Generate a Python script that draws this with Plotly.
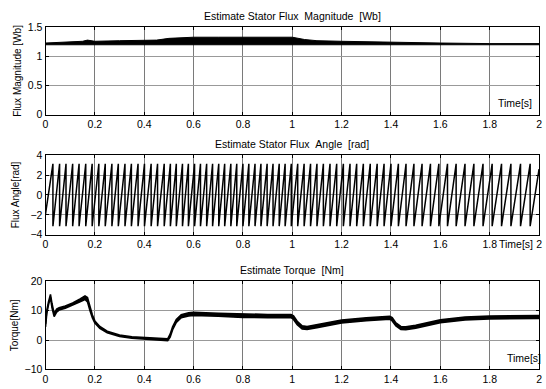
import plotly.graph_objects as go

W, H = 546, 389

# ---------------- data ----------------
# Flux magnitude: ripple band (lower / upper envelope)
flux_t  = [0.0, 0.05, 0.10, 0.15, 0.17, 0.20, 0.30, 0.40, 0.45, 0.50, 0.55, 0.60, 0.70, 0.80, 0.90, 0.98, 1.00, 1.05, 1.10, 1.20, 1.30, 1.40, 1.50, 1.60, 1.80, 2.00]
flux_lo = [1.20, 1.20, 1.20, 1.21, 1.21, 1.21, 1.21, 1.21, 1.21, 1.21, 1.21, 1.21, 1.21, 1.21, 1.21, 1.21, 1.21, 1.21, 1.21, 1.21, 1.20, 1.20, 1.20, 1.20, 1.20, 1.20]
flux_hi = [1.23, 1.24, 1.25, 1.26, 1.28, 1.26, 1.27, 1.27, 1.28, 1.31, 1.32, 1.33, 1.33, 1.33, 1.33, 1.34, 1.33, 1.29, 1.27, 1.26, 1.25, 1.24, 1.23, 1.23, 1.22, 1.22]

# Flux angle: times at which the angle wraps from +pi to -pi
angle_start = -1.9
angle_end = 2.6
wrap_times = [0.030, 0.057, 0.083, 0.110, 0.136, 0.163, 0.189, 0.216, 0.242, 0.269,
              0.295, 0.322, 0.348, 0.375, 0.401, 0.428, 0.454, 0.481,
              0.506, 0.530, 0.555, 0.579, 0.604, 0.628, 0.653, 0.677, 0.702, 0.726,
              0.751, 0.775, 0.800, 0.824, 0.849, 0.873, 0.898, 0.922, 0.947, 0.971, 0.996,
              1.022, 1.048, 1.074, 1.100, 1.126, 1.153, 1.180, 1.207, 1.234, 1.261,
              1.288, 1.316, 1.344, 1.372, 1.400,
              1.430, 1.461, 1.493, 1.526, 1.560, 1.594, 1.629, 1.664, 1.700, 1.736,
              1.773, 1.810, 1.848, 1.886, 1.925, 1.964]
PI = 3.14159

# Torque: ripple band (lower / upper envelope)
torque_t  = [0.0, 0.005, 0.012, 0.020, 0.026, 0.035, 0.045, 0.055, 0.080, 0.110, 0.140, 0.160, 0.170, 0.180, 0.190, 0.200, 0.220, 0.250, 0.300, 0.350, 0.400, 0.450, 0.495, 0.505, 0.515, 0.530, 0.550, 0.580, 0.600, 0.700, 0.800, 0.900, 0.995, 1.005, 1.020, 1.040, 1.060, 1.100, 1.150, 1.200, 1.300, 1.395, 1.405, 1.420, 1.440, 1.460, 1.500, 1.600, 1.700, 1.800, 2.000]
torque_lo = [4.5, 9.0, 12.0, 14.5, 11.0, 8.0, 9.5, 10.2, 10.8, 11.8, 13.0, 13.8, 13.0, 10.0, 7.5, 5.8, 4.0, 2.5, 1.2, 0.6, 0.3, 0.0, -0.2, 1.0, 3.5, 6.0, 7.6, 8.2, 8.4, 8.1, 7.7, 7.6, 7.6, 7.0, 5.2, 3.8, 3.6, 4.2, 5.0, 5.8, 6.6, 7.1, 6.5, 4.8, 3.6, 3.5, 4.0, 5.9, 6.8, 7.2, 7.3]
torque_hi = [5.5, 10.0, 13.0, 15.5, 12.5, 9.0, 10.5, 11.0, 11.6, 12.6, 14.0, 15.0, 14.5, 11.5, 8.5, 6.5, 4.6, 3.0, 1.7, 1.1, 0.8, 0.5, 0.4, 2.0, 4.5, 7.0, 8.6, 9.3, 9.4, 9.1, 8.8, 8.7, 8.7, 8.2, 6.4, 4.8, 4.6, 5.2, 6.0, 6.8, 7.6, 8.1, 7.6, 5.8, 4.6, 4.5, 5.0, 6.9, 7.8, 8.2, 8.3]

x_ticks = [0, 0.2, 0.4, 0.6, 0.8, 1.0, 1.2, 1.4, 1.6, 1.8, 2.0]
x_tick_text = ["0", "0.2", "0.4", "0.6", "0.8", "1", "1.2", "1.4", "1.6", "1.8", "2"]
y1_ticks = [0, 0.5, 1, 1.5]
y1_text = ["0", "0.5", "1", "1.5"]
y2_ticks = [-4, -2, 0, 2, 4]
y3_ticks = [-10, 0, 10, 20]

titles = ["Estimate Stator Flux\u00a0\u00a0Magnitude\u00a0\u00a0[Wb]",
          "Estimate Stator Flux\u00a0\u00a0Angle\u00a0\u00a0[rad]",
          "Estimate Torque\u00a0\u00a0[Nm]"]
ylabels = ["Flux Magnitude [Wb]", "Flux Angle[rad]", "Torque[Nm]"]

# ---------------- build angle polyline vertices ----------------
ang_x = [0.0]
ang_y = [angle_start]
for w in wrap_times:
    ang_x += [w, w]
    ang_y += [PI, -PI]
ang_x.append(2.0)
ang_y.append(angle_end)

# ---------------- layout in pixels ----------------
X0, X1 = 43, 542
boxes = [(22, 112), (154, 236), (284, 375)]  # top, bottom pixel rows

def ydom(b):
    return [1 - b[1] / H, 1 - b[0] / H]

FONT = "Liberation Sans, Arial, Helvetica, sans-serif"

fig = go.Figure()

# Flux magnitude band
fig.add_trace(go.Scatter(x=flux_t, y=flux_lo, mode="lines", line=dict(color="black", width=1),
                         xaxis="x", yaxis="y", showlegend=False, hoverinfo="skip"))
fig.add_trace(go.Scatter(x=flux_t, y=flux_hi, mode="lines", line=dict(color="black", width=1),
                         fill="tonexty", fillcolor="black",
                         xaxis="x", yaxis="y", showlegend=False))

# Flux angle sawtooth
fig.add_trace(go.Scatter(x=ang_x, y=ang_y, mode="lines", line=dict(color="black", width=1.5),
                         xaxis="x2", yaxis="y2", showlegend=False))

# Torque band
fig.add_trace(go.Scatter(x=torque_t, y=torque_lo, mode="lines", line=dict(color="black", width=1.6),
                         xaxis="x3", yaxis="y3", showlegend=False, hoverinfo="skip"))
fig.add_trace(go.Scatter(x=torque_t, y=torque_hi, mode="lines", line=dict(color="black", width=1.6),
                         fill="tonexty", fillcolor="black",
                         xaxis="x3", yaxis="y3", showlegend=False))

common_x = dict(range=[0, 2], tickmode="array", tickvals=x_ticks, ticktext=x_tick_text,
                domain=[X0 / W, X1 / W], showline=True, linecolor="black", linewidth=1,
                mirror="ticks", ticks="inside", ticklen=3, tickcolor="black",
                showgrid=True, gridcolor="#7a7a7a", gridwidth=1, zeroline=False,
                tickfont=dict(size=10.5, color="black", family=FONT))
common_y = dict(showline=True, linecolor="black", linewidth=1, mirror="ticks", ticks="inside",
                ticklen=3, tickcolor="black", showgrid=True, gridcolor="#999999", gridwidth=1,
                zeroline=False, tickfont=dict(size=10.5, color="black", family=FONT))

fig.update_layout(
    width=W, height=H, margin=dict(l=0, r=0, t=0, b=0),
    paper_bgcolor="white", plot_bgcolor="white",
    font=dict(family=FONT, size=10, color="black"),
    xaxis=dict(common_x, anchor="y"),
    xaxis2=dict(common_x, anchor="y2"),
    xaxis3=dict(common_x, anchor="y3"),
    yaxis=dict(common_y, anchor="x", domain=ydom(boxes[0]), range=[0, 1.5],
               tickmode="array", tickvals=y1_ticks, ticktext=y1_text,
               title=dict(text=ylabels[0], font=dict(size=10), standoff=4)),
    yaxis2=dict(common_y, anchor="x2", domain=ydom(boxes[1]), range=[-4, 4],
                tickmode="array", tickvals=y2_ticks,
                title=dict(text=ylabels[1], font=dict(size=10), standoff=8)),
    yaxis3=dict(common_y, anchor="x3", domain=ydom(boxes[2]), range=[-10, 20],
                tickmode="array", tickvals=y3_ticks,
                title=dict(text=ylabels[2], font=dict(size=10), standoff=4)),
)

anns = []
for i, b in enumerate(boxes):
    anns.append(dict(text=titles[i], x=(X0 + X1) / 2 / W, y=1 - (b[0] - 3) / H,
                     xref="paper", yref="paper", xanchor="center", yanchor="bottom",
                     showarrow=False, font=dict(size=10.5, family=FONT)))
# "Time[s]" labels
anns.append(dict(text="Time[s]", x=537 / W, y=1 - 108 / H, xref="paper", yref="paper",
                 xanchor="right", yanchor="bottom", showarrow=False, font=dict(size=10.5)))
anns.append(dict(text="Time[s]", x=538 / W, y=1 - 237 / H, xref="paper", yref="paper",
                 xanchor="right", yanchor="top", showarrow=False, font=dict(size=10.5)))
anns.append(dict(text="Time[s]", x=508 / W, y=1 - 371 / H, xref="paper", yref="paper",
                 xanchor="left", yanchor="bottom", showarrow=False, font=dict(size=10.5)))
fig.update_layout(annotations=anns)

fig.write_html("out.html")
